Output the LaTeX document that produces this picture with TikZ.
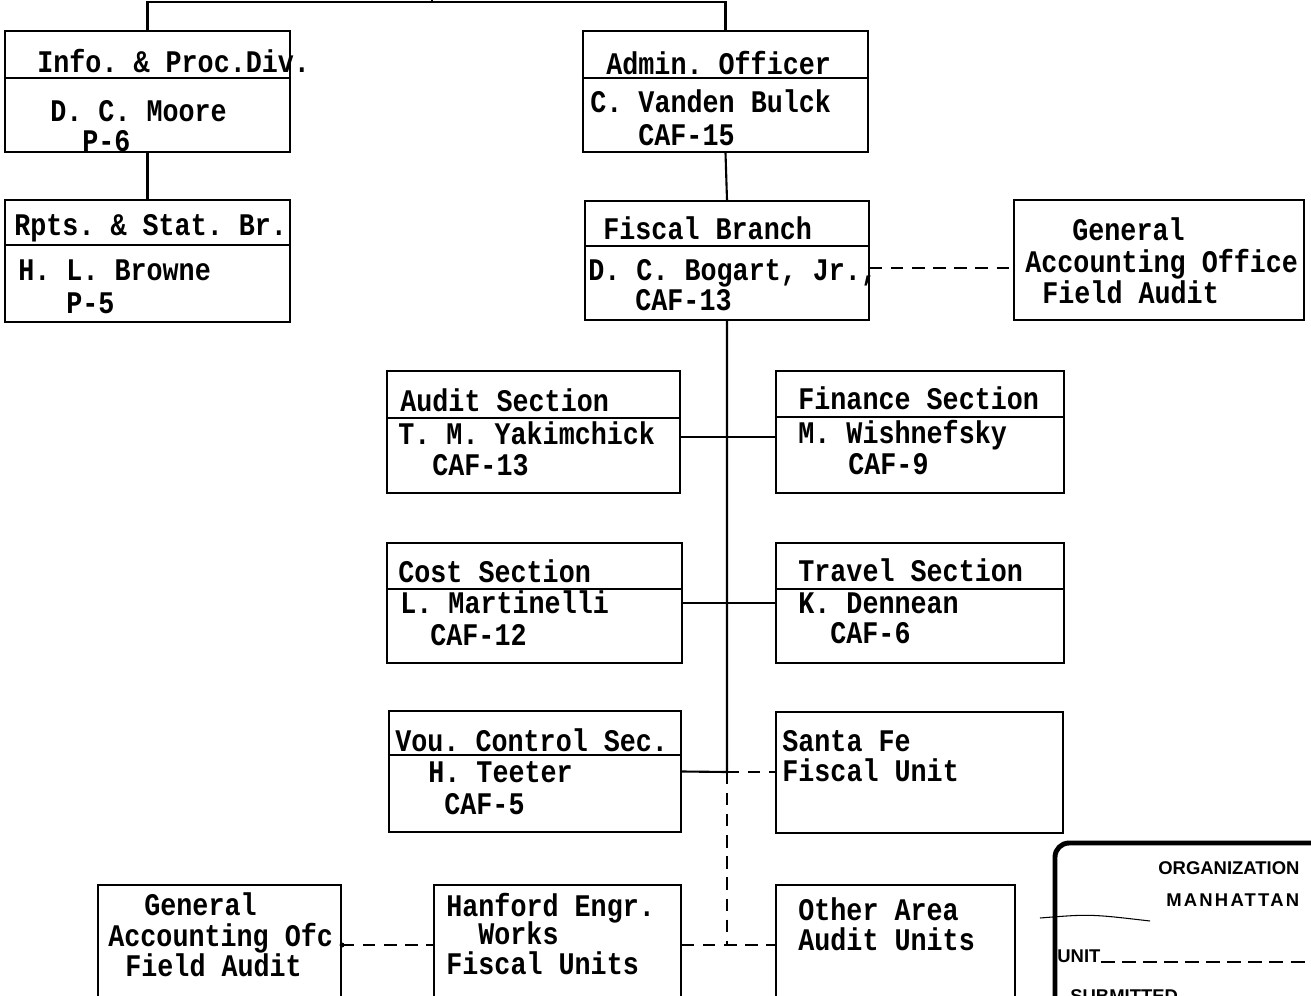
\documentclass[tikz,border=0pt]{standalone}
\usepackage{fontspec}
\setmainfont{Liberation Mono}[FakeStretch=0.85]
\newfontfamily\stampfont{Liberation Sans}
\newfontfamily\stampwide[LetterSpace=12]{Liberation Sans}
\usetikzlibrary{fit}
\frenchspacing

\begin{document}
\begin{tikzpicture}[x=0.02cm,y=-0.02cm,
  unit/.style={draw,line width=1.2pt,inner sep=0pt},
  lbl/.style={anchor=base west,inner sep=0pt,font=\fontsize{17.9}{20}\selectfont\bfseries},
  stamp/.style={anchor=base west,inner sep=0pt,font=\stampfont\fontsize{10.5}{12}\selectfont\bfseries},
  link/.style={line width=1.2pt},
  liaison/.style={line width=1.2pt,dash pattern=on 7pt off 5pt}]
  \clip (0,0) rectangle (1311,996);

  % boxes
  \node[unit,fit={(5,31) (290,152)}] (info) {};
  \node[unit,fit={(5,200) (290,322)}] (rpts) {};
  \node[unit,fit={(583,31) (868,152)}] (admin) {};
  \node[unit,fit={(585,201) (869,320)}] (fiscal) {};
  \node[unit,fit={(1014,200) (1304,320)}] (gao) {};
  \node[unit,fit={(387,371) (680,493)}] (audit) {};
  \node[unit,fit={(776,371) (1064,493)}] (finance) {};
  \node[unit,fit={(387,543) (682,663)}] (cost) {};
  \node[unit,fit={(776,543) (1064,663)}] (travel) {};
  \node[unit,fit={(389,711) (681,832)}] (vou) {};
  \node[unit,fit={(776,712) (1063,833)}] (santafe) {};
  \node[unit,fit={(98,885) (341,1020)}] (gaofield) {};
  \node[unit,fit={(434,885) (681,1020)}] (hanford) {};
  \node[unit,fit={(776,885) (1015,1020)}] (otherarea) {};

  % title bars
  \draw[link] (info.west |- 0,78) -- (info.east |- 0,78);
  \draw[link] (rpts.west |- 0,245) -- (rpts.east |- 0,245);
  \draw[link] (admin.west |- 0,78) -- (admin.east |- 0,78);
  \draw[link] (fiscal.west |- 0,246) -- (fiscal.east |- 0,246);
  \draw[link] (audit.west |- 0,418) -- (audit.east |- 0,418);
  \draw[link] (finance.west |- 0,417) -- (finance.east |- 0,417);
  \draw[link] (cost.west |- 0,589) -- (cost.east |- 0,589);
  \draw[link] (travel.west |- 0,589) -- (travel.east |- 0,589);
  \draw[link] (vou.west |- 0,755) -- (vou.east |- 0,755);

  % texts
  \node[lbl] (infoA) at (37,73) {Info. \& Proc.Div.};
  \node[lbl] (infoB) at (50,122) {D. C. Moore};
  \node[lbl] (infoC) at (82,152) {P-6};
  \node[lbl] (rptsA) at (14,236) {Rpts. \& Stat. Br.};
  \node[lbl] (rptsB) at (18,281) {H. L. Browne};
  \node[lbl] (rptsC) at (66,314) {P-5};
  \node[lbl] (adminA) at (606,75) {Admin. Officer};
  \node[lbl] (adminB) at (590,113) {C. Vanden Bulck};
  \node[lbl] (adminC) at (638,146) {CAF-15};
  \node[lbl] (fiscalA) at (603,240) {Fiscal Branch};
  \node[lbl] (fiscalB) at (588,281) {D. C. Bogart, Jr.,};
  \node[lbl] (fiscalC) at (635,311) {CAF-13};
  \node[lbl] (gaoA) at (1072,241) {General};
  \node[lbl] (gaoB) at (1025,273) {Accounting Office};
  \node[lbl] (gaoC) at (1042,304) {Field Audit};
  \node[lbl] (auditA) at (400,412) {Audit Section};
  \node[lbl] (auditB) at (398,444) {T. M. Yakimchick};
  \node[lbl] (auditC) at (432,476) {CAF-13};
  \node[lbl] (financeA) at (798,410) {Finance Section};
  \node[lbl] (financeB) at (798,443) {M. Wishnefsky};
  \node[lbl] (financeC) at (848,475) {CAF-9};
  \node[lbl] (costA) at (398,582) {Cost Section};
  \node[lbl] (costB) at (400,613) {L. Martinelli};
  \node[lbl] (costC) at (430,645) {CAF-12};
  \node[lbl] (travelA) at (798,581) {Travel Section};
  \node[lbl] (travelB) at (798,613) {K. Dennean};
  \node[lbl] (travelC) at (830,643) {CAF-6};
  \node[lbl] (vouA) at (395,751) {Vou. Control Sec.};
  \node[lbl] (vouB) at (428,782) {H. Teeter};
  \node[lbl] (vouC) at (444,814) {CAF-5};
  \node[lbl] (santafeA) at (782,751) {Santa Fe};
  \node[lbl] (santafeB) at (782,781) {Fiscal Unit};
  \node[lbl] (gaofieldA) at (144,915) {General};
  \node[lbl] (gaofieldB) at (108,946) {Accounting Ofc};
  \node[lbl] (gaofieldC) at (125,976) {Field Audit};
  \node[lbl] (hanfordA) at (446,916) {Hanford Engr.};
  \node[lbl] (hanfordB) at (478,944) {Works};
  \node[lbl] (hanfordC) at (446,974) {Fiscal Units};
  \node[lbl] (otherareaA) at (798,920) {Other Area};
  \node[lbl] (otherareaB) at (798,950) {Audit Units};

  % solid lines of authority
  \coordinate (top) at (432,2);
  \coordinate (up) at (432,-10);
  \coordinate (trunk) at (725,772);
  \coordinate (tA) at (725,437);
  \draw[link] (info.north) |- (top) -| (admin.north);
  \draw[link] (top) -- (up);
  \draw[link] (info.south) -- (rpts.north);
  \draw[link] (admin.south) -- (fiscal.north);
  \draw[link] (fiscal.south) -- (fiscal.south |- trunk) -- (vou.east);
  \draw[link] (audit.east |- tA) -- (finance.west |- tA);
  \draw[link] (cost.east) -- (travel.west);

  % dashed lines
  \coordinate (jn) at (727,945);
  \draw[liaison] (fiscal.east |- 0,268) -- (gao.west |- 0,268);
  \draw[liaison] (727,772) -- (santafe.west |- 727,772);
  \draw[liaison] (727,772) -- (jn);
  \draw[liaison] (hanford.east |- jn) -- (otherarea.west |- jn);
  \draw[liaison] (gaofield.east |- jn) -- (hanford.west |- jn);
  \fill (gaofield.east |- jn) circle (2.5);

  % stamp
  \draw[line width=2.8pt,rounded corners=8pt] (1055,1010) -- (1055,843) -- (1330,843);
  \draw[line width=0.6pt] (1040,918) .. controls (1090,914) .. (1150,921);
  \node[stamp] (stampA) at (1158,874) {ORGANIZATION};
  \node[stamp,font=\stampwide\fontsize{10.5}{12}\selectfont\bfseries] (stampB) at (1166,906) {MANHATTAN};
  \node[stamp] (stampC) at (1057,962) {UNIT};
  \draw[line width=1.2pt,dash pattern=on 8pt off 4pt] (stampC.base east) -- (1311,962);
  \node[stamp] (stampD) at (1070,1002) {SUBMITTED};
\end{tikzpicture}
\end{document}
